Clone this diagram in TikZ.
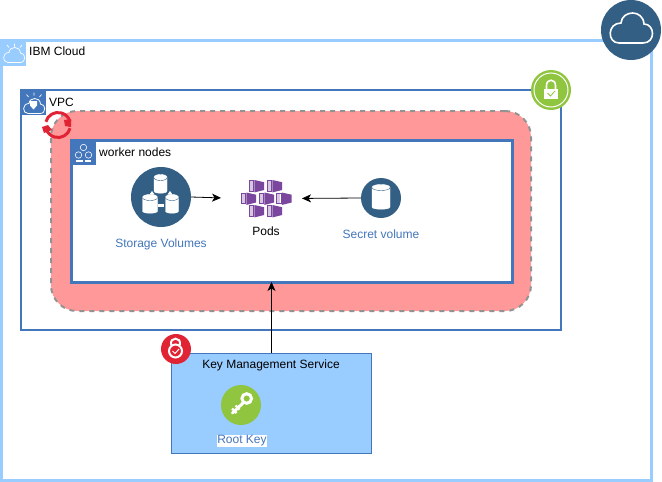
\documentclass[tikz,border=0pt]{standalone}
\usepackage{fontspec}
\setmainfont{Liberation Sans}
\usetikzlibrary{arrows.meta}

\definecolor{lightblue}{HTML}{99CCFF}
\definecolor{midblue}{HTML}{4376BB}
\definecolor{darkblue}{HTML}{335F85}
\definecolor{poolred}{HTML}{FF9999}
\definecolor{iconred}{HTML}{E02434}
\definecolor{icongreen}{HTML}{8FC53F}
\definecolor{podpurple}{HTML}{7B479E}

\tikzset{
    box/.style={rectangle, draw, inner sep=0pt, outer sep=0pt},
    iconsq/.style={rectangle, inner sep=0pt, outer sep=0pt, minimum size=25pt},
    round/.style={circle, inner sep=0pt, outer sep=0pt},
    title/.style={inner sep=0pt, anchor=west, font=\fontsize{12}{14}\selectfont},
    plaintext/.style={inner sep=0pt, font=\fontsize{12}{14}\selectfont},
    bluetext/.style={inner sep=1pt, text=midblue, font=\fontsize{12}{14}\selectfont},
    link/.style={->, >={Stealth[length=9pt,width=8pt,inset=2.5pt]}, line width=.8pt},
}

% white cloud outline
\newcommand{\cloudline}[4]{
    \draw[white, line width=#4, shift={(#1,#2)}, scale=#3]
        (-12,13) .. controls (-24,13) and (-24,-7) .. (-10,-7)
        .. controls (-9,-20) and (12,-21) .. (13,-6)
        .. controls (24,-6) and (25,13) .. (12,13) -- cycle;
}
% cylinder in a round icon
\newcommand{\cyl}[4]{
    \filldraw[fill=white, draw=white, shift={(#1,#2)}]
        (-#3,-#4+2.5) -- (-#3,#4-2) .. controls (-#3,#4+1) and (#3,#4+1) .. (#3,#4-2)
        -- (#3,-#4+2.5) .. controls (#3,-#4-1.5) and (-#3,-#4-1.5) .. (-#3,-#4+2.5) -- cycle;
    \draw[darkblue, shift={(#1,#2)}]
        (-#3,-#4+2.5) .. controls (-#3,-#4+6.5) and (#3,-#4+6.5) .. (#3,-#4+2.5);
}
% one pod
\newcommand{\podcube}[2]{
    \begin{scope}[shift={(#1,#2)}]
        \draw[podpurple, line width=.9pt] (0,.8) rectangle (4.6,11.2);
        \fill[podpurple!30] (.8,1.4) rectangle (3.8,10.6);
        \fill[podpurple] (5.4,0) -- (15,2.2) -- (15,10) -- (5.4,12.4) -- cycle;
    \end{scope}
}

\begin{document}
\begin{tikzpicture}[x=1pt,y=-1pt]
    \useasboundingbox (0,0) rectangle (662,482);

    % IBM Cloud
    \node[box, draw=lightblue, line width=3pt, fill=white, minimum width=650pt, minimum height=439.5pt] (cloudbox) at (326.5,260.25) {};
    \node[iconsq, fill=lightblue, minimum size=26pt] (cloudsq) at (13,53) {};
    \cloudline{14}{56}{.5}{.7pt}
    \draw[white, line width=.7pt] (14.5,43.5) -- (14.5,46.5) (7,45) -- (9,47.5) (22,45) -- (20,47.5);
    \node[title] (cloudtitle) at (29,51.5) {IBM Cloud};
    \node[round, fill=darkblue, minimum size=60pt] (cloudicon) at (631,30) {};
    \cloudline{631}{30}{1}{1.6pt}

    % VPC
    \node[box, draw=midblue, line width=2pt, fill=white, minimum width=540pt, minimum height=240pt] (vpcbox) at (291,210) {};
    \node[iconsq, fill=midblue] (vpcsq) at (33.5,102.5) {};
    \cloudline{34}{107}{.5}{.8pt}
    \draw[white, line width=.7pt] (34,92.5) -- (34,95.5) (26.5,94.5) -- (28.5,97) (41.5,94.5) -- (39.5,97);
    \fill[white] (30,101) -- (37,101) -- (37,105.5) -- (33.5,109.5) -- (30,105.5) -- cycle;
    \node[title] (vpctitle) at (49,102) {VPC};
    \node[round, fill=icongreen, minimum size=40pt] (vpclock) at (551,90) {};
    \draw[white, line width=1pt] (vpclock) circle (17);
    \draw[white, line width=1.6pt] (546.5,89) -- (546.5,85.5) .. controls (546.5,78.5) and (555.5,78.5) .. (555.5,85.5) -- (555.5,89);
    \fill[white] (544.3,88.5) rectangle (558,99);
    \draw[icongreen, line width=.8pt] (547.5,93) -- (550.5,96) -- (555,91);

    % pool
    \node[box, draw=gray!85, dashed, dash pattern=on 5pt off 5pt, line width=2pt, fill=poolred, rounded corners=26pt, minimum width=480pt, minimum height=200pt] (pool) at (291,211) {};
    \draw[iconred, line width=3pt] (58,125) ++(15:12.5) arc (15:165:12.5);
    \draw[iconred, line width=3pt] (58,125) ++(195:12.5) arc (195:345:12.5);
    \fill[iconred] (64,120) -- (71,119) -- (71,127) -- (65,126) -- cycle;
    \fill[iconred] (42,127) -- (48,125) -- (52,130) -- (44,133) -- cycle;

    % worker nodes
    \node[box, draw=midblue, line width=3pt, fill=white, minimum width=441pt, minimum height=142pt] (worker) at (291.5,211) {};
    \node[iconsq, fill=midblue] (workersq) at (83.5,152.5) {};
    \foreach \cx/\cy in {83.5/147.5, 78.5/155, 88.5/155}
        \draw[white, line width=.6pt] (\cx,\cy) circle (3.2);
    \draw[white, line width=1.5pt] (76,161) -- (83,161) (84.5,161) -- (91,161);
    \node[title] (workertitle) at (99,152) {worker nodes};

    % storage
    \node[round, fill=darkblue, minimum size=60pt] (storage) at (161,197) {};
    \cyl{160.5}{184}{6.5}{9}
    \cyl{150}{204}{7.5}{9}
    \cyl{172}{204}{6.5}{9}
    \fill[white] (158,203.5) rectangle (164,206.5);
    \fill[white] (152,191) -- (149.5,194.5) -- (154.5,194.5) -- cycle;
    \fill[white] (170,191) -- (167.5,194.5) -- (172.5,194.5) -- cycle;
    \node[bluetext] (storagetext) at (161,244) {Storage Volumes};

    % pods
    \node[box, draw=none, minimum width=52pt, minimum height=38pt] (pods) at (266,198.5) {};
    \foreach \px/\py in {249/180, 267/180, 241/192.5, 259/192.5, 276.5/192.5, 249/205, 267/205} {
        \podcube{\px}{\py}
    }
    \node[plaintext] (podstext) at (266,231) {Pods};

    % secret
    \node[round, fill=darkblue, minimum size=40pt] (secret) at (381,198) {};
    \cyl{381}{197}{9}{12}
    \node[bluetext] (secrettext) at (381,234) {Secret volume};

    \draw[link, shorten >=19pt] (storage.east) -- (pods.west);
    \draw[link, shorten >=10pt] (secret.west) -- (pods.east);

    % key management
    \node[box, draw=midblue, line width=1pt, fill=lightblue, minimum width=200pt, minimum height=100pt] (kms) at (271.5,403) {};
    \node[plaintext] (kmstext) at (271,365) {Key Management Service};
    \draw[link] (kms.north) -- (kms.north |- worker.south);
    \node[round, fill=iconred, minimum size=30pt] (kmslock) at (176,349) {};
    \draw[white, line width=2pt] (171,345) .. controls (169.5,336.5) and (181.5,336.5) .. (180,345);
    \draw[white, line width=2pt] (175.5,351) circle (6.5);
    \draw[white, line width=1pt] (172.5,351) -- (175,353.5) -- (179,349);
    \node[round, fill=icongreen, minimum size=40pt] (rootkey) at (241,405) {};
    \draw[white, line width=3pt] (246.7,398.5) circle (4.8);
    \draw[white, line width=3pt, line cap=round] (243,403) -- (232.5,413);
    \draw[white, line width=2.4pt] (232,408.5) -- (236.5,413) (235.5,405.5) -- (239.5,409.5);
    \node[bluetext, fill=white, inner sep=.5pt] (rootkeytext) at (242,441) {Root Key};
\end{tikzpicture}
\end{document}
